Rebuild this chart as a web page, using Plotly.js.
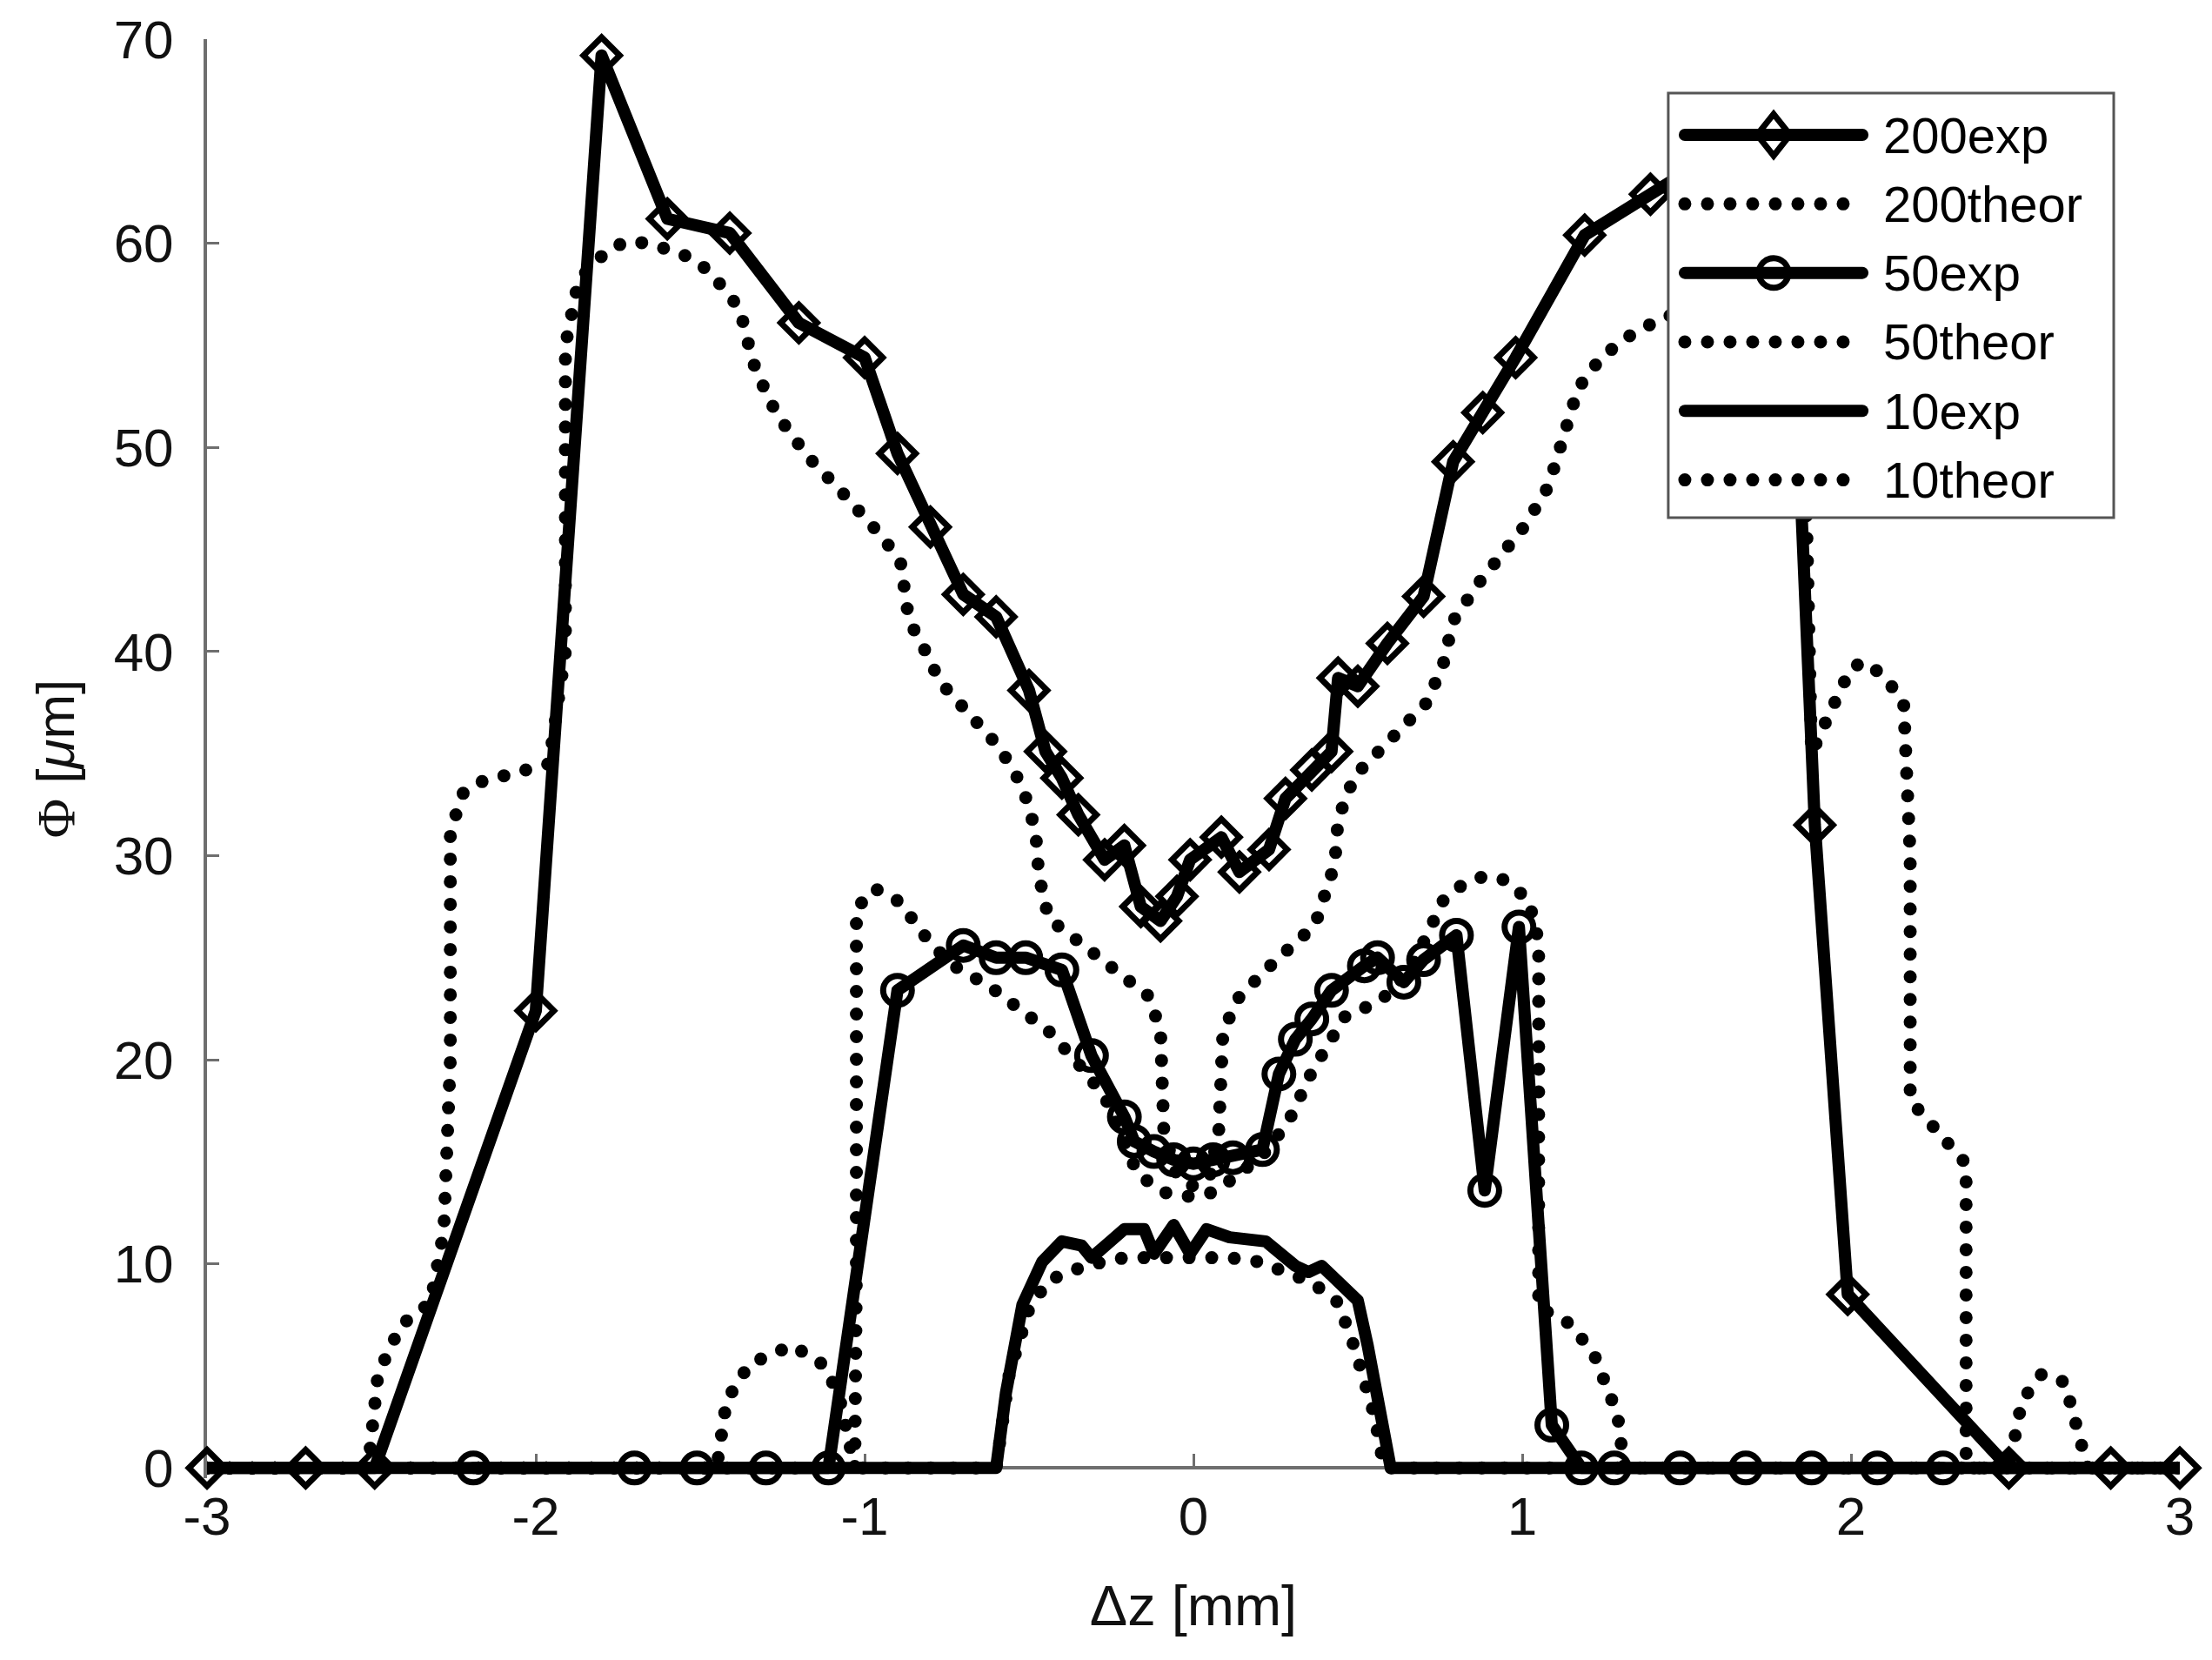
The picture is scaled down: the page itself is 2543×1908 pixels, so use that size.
<!DOCTYPE html>
<html>
<head>
<meta charset="utf-8">
<script src="https://cdn.plot.ly/plotly-3.0.1.min.js"></script>
<style>
  html, body { margin: 0; padding: 0; background: #fff; }
  #chart { width: 2543px; height: 1908px; }
  .scatterlayer .js-line { stroke-linecap: round; stroke-linejoin: round; }
  .shapelayer path { stroke-linecap: round; }
  .cartesianlayer .plot, .cartesianlayer .plot * { clip-path: none !important; }
</style>
</head>
<body>
<div id="chart"></div>
<script>
// ---------------- data ----------------
const seriesNames = ['200exp', '200theor', '50exp', '50theor', '10exp', '10theor'];

const x200exp = [-3, -2.7, -2.49, -2.0, -1.8, -1.6, -1.41, -1.2, -1.0, -0.9, -0.8, -0.7, -0.6, -0.5, -0.45, -0.4, -0.35, -0.27, -0.21, -0.16, -0.1, -0.05, -0.01, 0.085, 0.14, 0.23, 0.28, 0.36, 0.42, 0.44, 0.5, 0.59, 0.7, 0.79, 0.88, 0.98, 1.19, 1.39, 1.6, 1.8, 1.89, 1.99, 2.48, 2.79, 3.0];
const y200exp = [0, 0, 0, 22.4, 69.2, 61.2, 60.5, 56.1, 54.4, 49.7, 46.1, 42.8, 41.7, 38.1, 35.1, 33.8, 32.0, 29.8, 30.5, 27.5, 26.8, 28.0, 29.8, 30.9, 29.2, 30.3, 32.8, 34.2, 35.1, 38.7, 38.3, 40.4, 42.7, 49.3, 51.7, 54.4, 60.4, 62.4, 64.5, 65.5, 31.5, 8.5, 0, 0, 0];

const x200theor = [-3, -2.51, -2.48, -2.41, -2.32, -2.28, -2.26, -2.26, -2.22, -2.17, -2.03, -1.96, -1.91, -1.91, -1.87, -1.78, -1.72, -1.66, -1.60, -1.53, -1.47, -1.43, -1.38, -1.34, -1.29, -1.24, -1.17, -1.08, -1.0, -0.94, -0.89, -0.865, -0.83, -0.77, -0.68, -0.59, -0.52, -0.48, -0.47, -0.44, -0.35, -0.23, -0.135, -0.10, -0.09, -0.05, 0, 0.05, 0.077, 0.09, 0.14, 0.24, 0.37, 0.43, 0.44, 0.49, 0.59, 0.71, 0.76, 0.79, 0.87, 0.94, 1.01, 1.08, 1.12, 1.17, 1.24, 1.32, 1.42, 1.55, 1.68, 1.80, 1.86, 1.87, 1.88, 1.93, 2.0, 2.04, 2.1, 2.16, 2.18, 2.18, 2.22, 2.3, 2.35, 2.35, 2.48, 2.52, 2.58, 2.65, 2.72, 3.0];
const y200theor = [0, 0, 4.6, 7.0, 8.1, 11.6, 20, 31.2, 33.1, 33.6, 34.2, 34.5, 40, 55, 58.2, 59.7, 60.1, 60.0, 59.7, 59.3, 58.6, 57.7, 56.8, 54.2, 52.3, 51.0, 49.5, 48.0, 46.6, 45.5, 44.3, 41.5, 40.5, 38.5, 36.9, 35.3, 33.4, 31.2, 29.0, 26.9, 25.8, 24.4, 23.1, 21.4, 16.5, 14.3, 13.8, 14.3, 16.5, 21.4, 23.1, 24.7, 26.6, 29.6, 31.8, 33.9, 35.6, 37.5, 39.4, 41.5, 43.4, 44.9, 46.2, 48.1, 50.4, 52.9, 54.4, 55.4, 56.3, 57.0, 57.2, 56.0, 50, 40, 35, 36.8, 39.2, 39.5, 38.8, 37.5, 30, 18, 17.3, 16.0, 14.9, 0, 0, 3.3, 4.6, 4.2, 0, 0];

const x50exp = [-2.19, -1.70, -1.51, -1.30, -1.11, -0.9, -0.70, -0.60, -0.51, -0.40, -0.31, -0.21, -0.18, -0.12, -0.06, 0, 0.06, 0.12, 0.21, 0.26, 0.31, 0.36, 0.42, 0.52, 0.56, 0.64, 0.70, 0.80, 0.886, 0.99, 1.09, 1.18, 1.28, 1.48, 1.68, 1.88, 2.08, 2.28];
const y50exp = [0, 0, 0, 0, 0, 23.4, 25.6, 25.0, 25.0, 24.4, 20.2, 17.2, 16.0, 15.5, 15.1, 14.9, 15.1, 15.2, 15.6, 19.3, 21.0, 22.0, 23.4, 24.6, 25.0, 23.8, 24.9, 26.1, 13.6, 26.5, 2.1, 0, 0, 0, 0, 0, 0, 0];

const x50theor = [-3, -1.45, -1.42, -1.35, -1.22, -1.13, -1.08, -1.05, -1.03, -1.025, -1.025, -0.97, -0.89, -0.83, -0.74, -0.62, -0.53, -0.44, -0.35, -0.27, -0.21, -0.17, -0.09, -0.01, 0.06, 0.14, 0.22, 0.29, 0.36, 0.46, 0.57, 0.66, 0.76, 0.82, 0.886, 0.95, 1.02, 1.05, 1.05, 1.1, 1.15, 1.22, 1.29, 1.31, 3.0];
const y50theor = [0, 0, 3.3, 5.1, 6.0, 5.1, 3.7, 1.6, 0, 10, 27.4, 28.4, 27.7, 26.3, 24.7, 23.6, 22.5, 21.4, 19.8, 18.2, 16.0, 14.4, 13.5, 13.3, 13.5, 14.4, 15.5, 17.0, 19.4, 22.1, 22.9, 24.4, 27.8, 28.6, 29.0, 28.8, 27.8, 25.8, 7.8, 7.5, 7.0, 5.5, 2.6, 0, 0];

const x10exp = [-3, -0.60, -0.57, -0.52, -0.46, -0.40, -0.34, -0.31, -0.21, -0.15, -0.12, -0.06, -0.01, 0.04, 0.11, 0.22, 0.31, 0.35, 0.39, 0.45, 0.50, 0.53, 0.56, 0.60, 3.0];
const y10exp = [0, 0, 3.7, 8.0, 10.1, 11.1, 10.9, 10.3, 11.7, 11.7, 10.5, 11.9, 10.5, 11.7, 11.3, 11.1, 9.9, 9.6, 9.9, 9.0, 8.2, 6.0, 3.7, 0, 0];

const x10theor = [-3, -0.6, -0.56, -0.50, -0.44, -0.33, -0.21, -0.12, -0.01, 0.11, 0.20, 0.28, 0.36, 0.44, 0.49, 0.55, 0.58, 3.0];
const y10theor = [0, 0, 4.6, 7.8, 9.2, 9.9, 10.3, 10.3, 10.4, 10.3, 10.1, 9.6, 9.1, 8.1, 5.9, 2.6, 0, 0];

const xTickVals = [-3, -2, -1, 0, 1, 2, 3];
const xTickText = ['-3', '-2', '-1', '0', '1', '2', '3'];
const yTickVals = [0, 10, 20, 30, 40, 50, 60, 70];
const yTickText = ['0', '10', '20', '30', '40', '50', '60', '70'];
const xTitle = 'Δz [mm]';
const yTitle = '<span style="font-family:\'Liberation Serif\',serif">Φ</span> [<i>μ</i>m]';

// ---------------- styles ----------------
const INK = '#000000';
const LW = 14;
const LWDOT = 15;
const DOT = '0px,26px';
const FONT = 'Liberation Sans, Arial, sans-serif';
const AXIS_GREY = '#6e6e6e';

// small padding below 0 so the thick zero-level lines are not cut by the plot edge;
// the x axis itself is placed exactly at y = 0
const Y_MIN = -0.5, Y_MAX = 70;

const markerOf = {
  '200exp': {symbol: 'diamond-open', size: 32, color: INK, line: {width: 7, color: INK}},
  '50exp': {symbol: 'circle-open', size: 33, color: INK, line: {width: 7, color: INK}}
};

const seriesData = [
  [x200exp, y200exp], [x200theor, y200theor],
  [x50exp, y50exp], [x50theor, y50theor],
  [x10exp, y10exp], [x10theor, y10theor]
];

const traces = seriesNames.map((name, i) => {
  const isTheor = name.indexOf('theor') >= 0;
  const t = {
    type: 'scatter',
    name: name,
    x: seriesData[i][0],
    y: seriesData[i][1],
    mode: markerOf[name] ? 'lines+markers' : 'lines',
    line: {color: INK, width: isTheor ? LWDOT : LW, dash: isTheor ? DOT : 'solid'},
    cliponaxis: false,
    hoverinfo: 'skip'
  };
  if (markerOf[name]) t.marker = markerOf[name];
  return t;
});

// geometry: y = 0 at pixel 1687, y = 70 at pixel 45
const H = 1908, TOP = 45, PX_PER_UNIT = (1687 - 45) / 70;
const plotH = (Y_MAX - Y_MIN) * PX_PER_UNIT;
const BOTTOM = H - TOP - plotH;
const toPaperY = py => (H - BOTTOM - py) / plotH;

// ---------------- custom legend (box, samples, labels) ----------------
const LEG = {x0: 0.7407, x1: 0.9665, py0: 595, py1: 107,
             sx0: 0.7491, sx1: 0.8391, mx: 0.7941, tx: 0.8488,
             pyFirst: 155, pyStep: 79.3};
const shapes = [{
  type: 'rect', xref: 'paper', yref: 'paper',
  x0: LEG.x0, x1: LEG.x1, y0: toPaperY(LEG.py0), y1: toPaperY(LEG.py1),
  fillcolor: '#ffffff', line: {color: '#555555', width: 3}, layer: 'above'
}];
const annotations = [];
seriesNames.forEach((name, i) => {
  const yy = toPaperY(LEG.pyFirst + i * LEG.pyStep);
  const isTheor = name.indexOf('theor') >= 0;
  shapes.push({
    type: 'line', xref: 'paper', yref: 'paper',
    x0: LEG.sx0, x1: LEG.sx1, y0: yy, y1: yy,
    line: {color: INK, width: isTheor ? LWDOT : LW, dash: isTheor ? DOT : 'solid'}, layer: 'above'
  });
  if (name === '200exp') {
    shapes.push({
      type: 'path', xref: 'paper', yref: 'paper',
      xsizemode: 'pixel', ysizemode: 'pixel', xanchor: LEG.mx, yanchor: yy,
      path: 'M-19,0L0,24L19,0L0,-24Z',
      fillcolor: 'rgba(0,0,0,0)', line: {color: INK, width: 7}, layer: 'above'
    });
  } else if (name === '50exp') {
    shapes.push({
      type: 'circle', xref: 'paper', yref: 'paper',
      xsizemode: 'pixel', ysizemode: 'pixel', xanchor: LEG.mx, yanchor: yy,
      x0: -17, x1: 17, y0: -17, y1: 17,
      fillcolor: 'rgba(0,0,0,0)', line: {color: INK, width: 7}, layer: 'above'
    });
  }
  annotations.push({
    xref: 'paper', yref: 'paper', x: LEG.tx, y: yy,
    xanchor: 'left', yanchor: 'middle', showarrow: false,
    text: name, font: {family: FONT, size: 58, color: INK}
  });
});

const axisCommon = {
  showgrid: false, zeroline: false, showline: true,
  linecolor: AXIS_GREY, linewidth: 4,
  ticks: 'inside', ticklen: 14, tickwidth: 3, tickcolor: AXIS_GREY,
  tickfont: {family: FONT, size: 62, color: '#111111'},
  mirror: false, fixedrange: true, layer: 'below traces'
};

const layout = {
  width: 2543, height: H,
  margin: {l: 238, r: 37, t: TOP, b: BOTTOM, pad: 0},
  paper_bgcolor: '#ffffff', plot_bgcolor: '#ffffff',
  showlegend: false,
  font: {family: FONT, color: '#111111'},
  xaxis: Object.assign({}, axisCommon, {
    range: [-3, 3], tickmode: 'array', tickvals: xTickVals, ticktext: xTickText,
    anchor: 'free', position: (0 - Y_MIN) / (Y_MAX - Y_MIN),
    title: {text: xTitle, font: {family: FONT, size: 65, color: '#111111'}, standoff: 46}
  }),
  yaxis: Object.assign({}, axisCommon, {
    range: [Y_MIN, Y_MAX], tickmode: 'array', tickvals: yTickVals, ticktext: yTickText,
    ticklabelstandoff: 22,
    title: {text: yTitle, font: {family: FONT, size: 62, color: '#111111'}, standoff: 26}
  }),
  shapes: shapes,
  annotations: annotations
};

Plotly.newPlot('chart', traces, layout, {staticPlot: true, displayModeBar: false});
</script>
</body>
</html>
